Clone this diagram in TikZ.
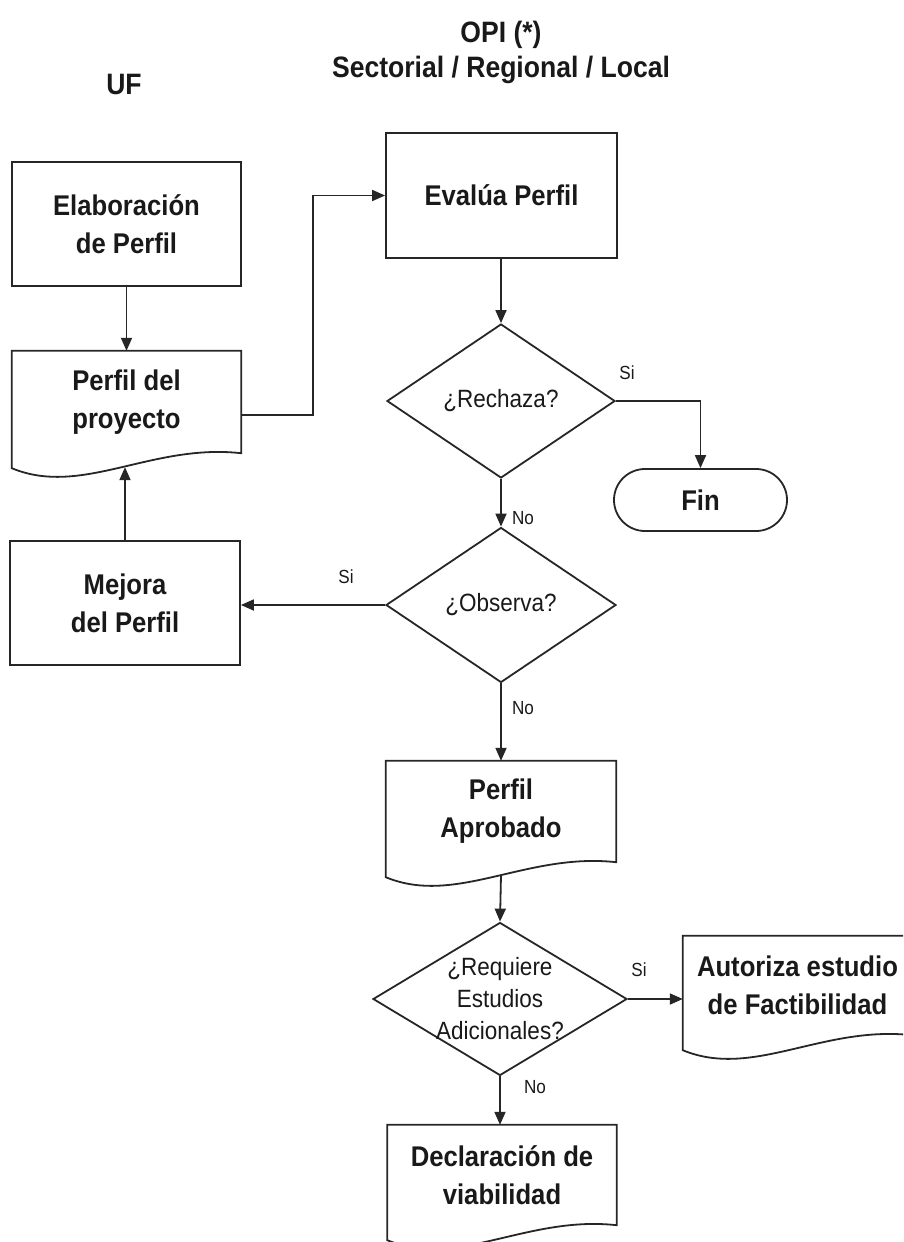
\documentclass[tikz,border=0pt]{standalone}
\usepackage{fontspec}
\setmainfont{Liberation Sans}[FakeStretch=0.9]
\usetikzlibrary{arrows.meta,shapes.geometric,calc}
\tikzset{
 ln/.style={line width=1.8pt, draw=black!85},
 arr/.style={ln, -{Triangle[length=13pt,width=11pt]}},
 boxtext/.style={align=center, font=\bfseries\fontsize{28.5}{38}\selectfont, text=black!90},
 box/.style={ln, rectangle, inner sep=0pt, boxtext},
 docnode/.style={rectangle, inner sep=0pt, boxtext},
 dia/.style={ln, diamond, inner sep=0pt},
 dtext/.style={align=center, font=\fontsize{25}{32}\selectfont, text=black!90},
 lbl/.style={font=\fontsize{19}{20}\selectfont, text=black!90},
 ttl/.style={font=\bfseries\fontsize{29.5}{35}\selectfont, align=center, text=black!90},
}
\newcommand\docoutline[1]{\draw[ln] (#1.north west) -- (#1.north east) -- (#1.south east) .. controls ($(#1.south east)+(-90,-10)$) and ($(#1.south west)+(70,44)$) .. ($(#1.south west)+(0,15)$) -- cycle;}
\begin{document}
\begin{tikzpicture}[x=1pt,y=-1pt]
\useasboundingbox (0,0) rectangle (903,1242);
\clip (0,0) rectangle (903,1242);
% titles
\node[ttl] (uf) at (124,84) {UF};
\node[ttl] (opi) at (501,52) {OPI (*)\\Sectorial / Regional / Local};
% boxes
\node[box, minimum width=229pt, minimum height=124pt] (elab) at (126.5,224) {Elaboración\\de Perfil};
\node[box, minimum width=231pt, minimum height=125pt] (eval) at (501.5,195.5) {Evalúa Perfil};
\node[box, minimum width=230pt, minimum height=124pt] (mej) at (125,603) {Mejora\\del Perfil};
\node[box, minimum width=173pt, minimum height=62pt, rounded corners=31pt] (fin) at (700.5,500) {Fin};
% documents
\node[docnode, minimum width=229pt, minimum height=102pt] (pp) at (126.5,402) {Perfil del\\proyecto};
\node[docnode, minimum width=230pt, minimum height=101pt] (pa) at (501,811.5) {Perfil\\Aprobado};
\node[docnode, minimum width=229pt, minimum height=100pt] (decl) at (502,1175) {Declaración de\\viabilidad};
\node[docnode, minimum width=229pt, minimum height=99pt] (aut) at (797.5,985.5) {Autoriza estudio\\de Factibilidad};
\docoutline{pp}
\docoutline{pa}
\docoutline{decl}
\docoutline{aut}
% decisions
\node[dia, minimum width=228pt, minimum height=154pt] (rech) at (501,401) {};
\node[dtext] (recht) at (rech) {¿Rechaza?};
\node[dia, minimum width=230pt, minimum height=155pt] (obs) at (501,605) {};
\node[dtext] (obst) at (obs) {¿Observa?};
\node[dia, minimum width=254pt, minimum height=153pt] (req) at (500,999) {};
\node[dtext] (reqt) at (req) {¿Requiere\\Estudios\\Adicionales?};
% connectors
\draw[arr] (elab.south) -- (pp.north -| elab.south);
\draw[arr] ([yshift=-13pt]pp.east) -- ++(72,0) |- (eval.west);
\draw[arr] (eval.south -| rech.north) -- (rech.north);
\draw[arr] (rech.east) -| (fin.north);
\draw[arr] (rech.south) -- (obs.north);
\draw[arr] (obs.west) -- (obs.west -| mej.east);
\draw[arr] (mej.north) -- ($(mej.north |- pp.south)+(0,14)$);
\draw[arr] (obs.south) -- (obs.south |- pa.north);
\draw[arr] ($(pa.south)+(0,13)$) -- (req.north);
\draw[arr] (req.east) -- (req.east -| aut.west);
\draw[arr] (req.south) -- (req.south |- decl.north);
% labels
\node[lbl] (si1) at (627,373) {Si};
\node[lbl] (no1) at (523,518) {No};
\node[lbl] (si2) at (346,577) {Si};
\node[lbl] (no2) at (523,708) {No};
\node[lbl] (si3) at (639,970) {Si};
\node[lbl] (no3) at (535,1087) {No};
\end{tikzpicture}
\end{document}
